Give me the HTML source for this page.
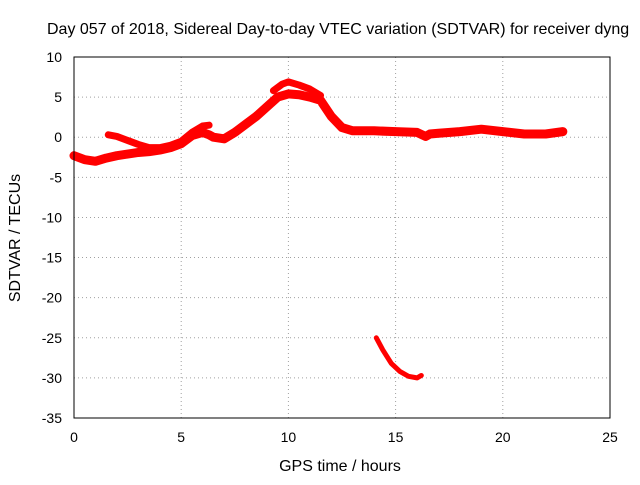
<!DOCTYPE html>
<html><head><meta charset="utf-8"><style>
body{margin:0;background:#fff}
svg text{font-family:"Liberation Sans",sans-serif;font-size:14px;fill:#000}
svg text.t{font-size:16px}
</style></head><body>
<svg id="c" width="640" height="480">
<text class="t" x="47" y="34">Day 057 of 2018, Sidereal Day-to-day VTEC variation (SDTVAR) for receiver dyng</text>
<text class="t" x="340" y="471" text-anchor="middle">GPS time / hours</text>
<text class="t" transform="translate(20,238) rotate(-90)" text-anchor="middle">SDTVAR / TECUs</text>
<g id="grid"></g><g id="ticks"></g><g id="series"></g>
<rect x="74" y="57" width="536" height="361" fill="none" stroke="#000" stroke-width="1"/>
</svg>
<script>
const xTicks=[0,5,10,15,20,25];
const yTicks=[10,5,0,-5,-10,-15,-20,-25,-30,-35];
const mainHours=[0,0.5,1,1.5,2,2.5,3,3.5,4,4.5,5,5.5,6,6.3,6.5,7,7.5,8,8.5,9,9.5,10,10.5,11,11.5,12,12.5,13,14,15,16,16.4,16.6,17,18,19,20,21,22,22.8];
const mainVals=[-2.3,-2.8,-3,-2.6,-2.3,-2.1,-1.9,-1.8,-1.6,-1.3,-0.8,0.2,0.6,0.3,0,-0.2,0.6,1.6,2.6,3.8,5,5.4,5.3,5,4.6,2.6,1.2,0.8,0.8,0.7,0.6,0.1,0.4,0.5,0.7,1,0.7,0.4,0.4,0.7];
const upperHours=[1.6,2,2.5,3,3.5,4,4.5,5,5.5,6,6.3];
const upperVals=[0.3,0.1,-0.4,-0.9,-1.3,-1.3,-1,-0.5,0.6,1.4,1.5];
const peakHours=[9.3,9.7,10,10.5,11,11.5];
const peakVals=[5.8,6.6,6.9,6.5,6,5.2];
const segHours=[14.1,14.4,14.8,15.2,15.6,16,16.2];
const segVals=[-25,-26.5,-28.2,-29.2,-29.8,-30,-29.7];
const X=h=>74+h*536/25, Y=v=>57+(10-v)*361/45;
const ns="http://www.w3.org/2000/svg";
const grid=document.getElementById('grid'),ticks=document.getElementById('ticks'),ser=document.getElementById('series');
function mk(t,a,p){const e=document.createElementNS(ns,t);for(const k in a)e.setAttribute(k,a[k]);p.appendChild(e);return e;}
xTicks.forEach(t=>{
 const g=mk('line',{x1:X(t),x2:X(t),y1:57,y2:418,stroke:'#a0a0a0','stroke-dasharray':'1,3'},grid);
 
 
 const l=mk('text',{x:X(t),y:442,'text-anchor':'middle'},ticks);l.textContent=t;
 
 
});
yTicks.forEach(t=>{
 const g=mk('line',{x1:74,x2:610,y1:Y(t),y2:Y(t),stroke:'#a0a0a0','stroke-dasharray':'1,3'},grid);
 
 
 const l=mk('text',{x:62,y:Y(t)+5,'text-anchor':'end'},ticks);l.textContent=t;
 
 
});
function line(hs,vs,w,name){
 const p=mk('polyline',{points:hs.map((h,i)=>X(h)+','+Y(vs[i])).join(' '),fill:'none',stroke:'#f00','stroke-width':w,'stroke-linejoin':'round','stroke-linecap':'round'},ser);
 
 
}
line(mainHours,mainVals,9,'sdtvar-main-series');
line(upperHours,upperVals,7,'sdtvar-upper-band');
line(peakHours,peakVals,7,'sdtvar-peak-band');
line(segHours,segVals,5,'sdtvar-outlier-segment');
</script>
</body></html>
